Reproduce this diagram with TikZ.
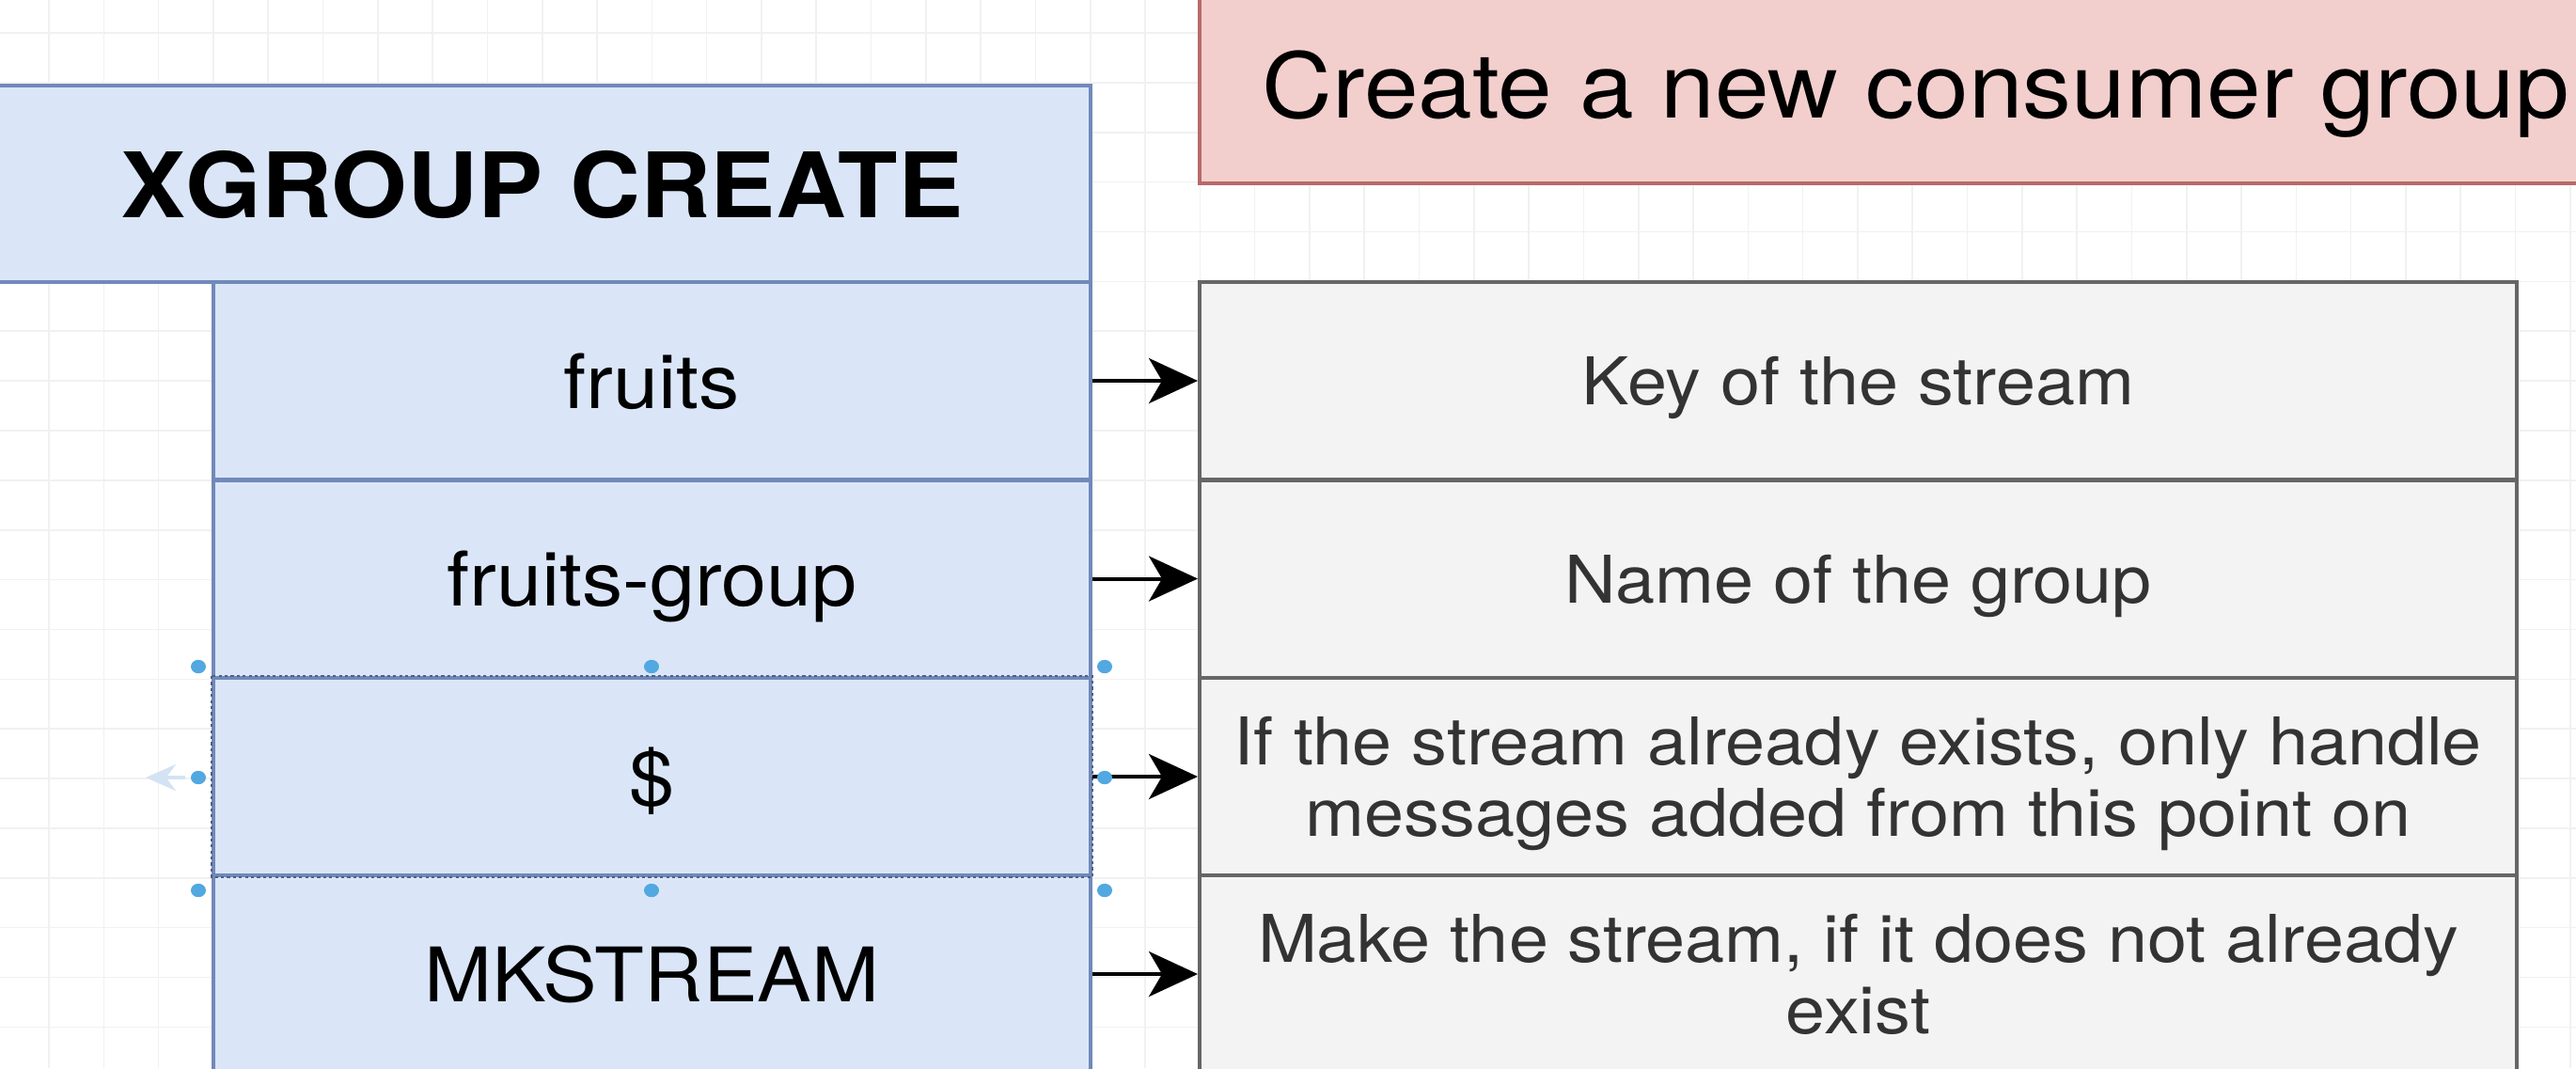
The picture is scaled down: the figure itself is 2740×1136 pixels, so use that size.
\documentclass[tikz,border=0pt]{standalone}
\usepackage{fontspec}
\setmainfont{TeX Gyre Heros}[FakeStretch=1.08]
\usetikzlibrary{arrows.meta}
\definecolor{bluefill}{HTML}{DAE6F8}
\definecolor{blueline}{HTML}{7189BA}
\definecolor{redfill}{HTML}{F2CFCD}
\definecolor{redline}{HTML}{B86A68}
\definecolor{grayfill}{HTML}{F3F3F3}
\definecolor{grayline}{HTML}{666666}
\definecolor{graytext}{HTML}{333333}
\definecolor{gridline}{HTML}{F1F1F1}
\definecolor{handle}{HTML}{52A8E0}
\definecolor{ghost}{HTML}{D3E3F3}
\begin{document}
\begin{tikzpicture}[x=0.25pt,y=-0.25pt,
  cellbox/.style={draw=blueline, fill=bluefill, line width=1pt, minimum width=233.25pt,
    minimum height=52.5pt, inner sep=0pt, text depth=-1.5pt,
    font=\fontsize{20pt}{24pt}\selectfont},
  titlebox/.style={draw=blueline, fill=bluefill, line width=1pt, minimum width=291.75pt,
    minimum height=52.25pt, inner sep=0pt, text depth=-0.75pt,
    font=\fontsize{24pt}{28pt}\selectfont\bfseries},
  headbox/.style={draw=redline, fill=redfill, line width=1pt, minimum width=381pt,
    minimum height=52.5pt, inner sep=0pt, text depth=-1.25pt,
    font=\fontsize{24pt}{28pt}\selectfont},
  descbox/.style={draw=grayline, fill=grayfill, line width=1pt, minimum width=350.25pt,
    minimum height=52.5pt, inner sep=0pt, text=graytext, align=center, text depth=-1.5pt,
    font=\fontsize{17.5pt}{19pt}\selectfont},
  arr/.style={line width=1pt, -{Stealth[length=13pt,width=12pt,inset=3.5pt]}},
  selbox/.style={draw=blueline!70!black, line width=0.4pt, dash pattern=on 0.8pt off 0.8pt},
  handledot/.style={fill=handle},
]
\useasboundingbox (0,0) rectangle (2740,1136);
\clip (0,0) rectangle (2740,1136);
\fill[white] (0,0) rectangle (2740,1136);
% background grid
\foreach \i in {0,...,46}
  \draw[gridline, line width=0.4pt] ({52+58.3*\i},0) -- ({52+58.3*\i},1136);
\foreach \j in {0,...,20}
  \draw[gridline, line width=0.4pt] (0,{35+52.87*\j}) -- (2740,{35+52.87*\j});

% header boxes
\node[headbox] (head) at (2038,90) {Create a new consumer group};
\node[titlebox] (title) at (576.5,195.5) {XGROUP CREATE};

% left column cells
\node[cellbox] (c1) at (693.5,405) {fruits};
\node[cellbox] (c2) at (693.5,615.5) {fruits-group};
\node[cellbox] (c3) at (693.5,826) {\$};
\node[cellbox] (c4) at (693.5,1036) {MKSTREAM};
\draw[selbox] (c3.north west) rectangle (c3.south east);

% description column
\node[descbox] (d1) at (1976.5,405) {Key of the stream};
\node[descbox] (d2) at (1976.5,615.5) {Name of the group};
\node[descbox] (d3) at (1976.5,826) {If the stream already exists, only handle\\messages added from this point on};
\node[descbox] (d4) at (1976.5,1036) {Make the stream, if it does not already\\exist};

% connectors
\draw[arr] (c1.east) -- (d1.west);
\draw[arr] (c2.east) -- (d2.west);
\draw[arr] (c3.east) -- (d3.west);
\draw[arr] (c4.east) -- (d4.west);

% selection handles and ghost arrow
\coordinate (gh) at (197,827);
\draw[ghost, line width=1pt, -{Stealth[length=8pt,width=7pt]}] (gh) -- ++(-42,0);
\foreach \p in {(211,709),(693,709),(1175,709),(211,827),(1175,827),(211,947),(693,947),(1175,947)}
  \fill[handledot] \p ellipse (2pt and 1.8pt);
\end{tikzpicture}
\end{document}
